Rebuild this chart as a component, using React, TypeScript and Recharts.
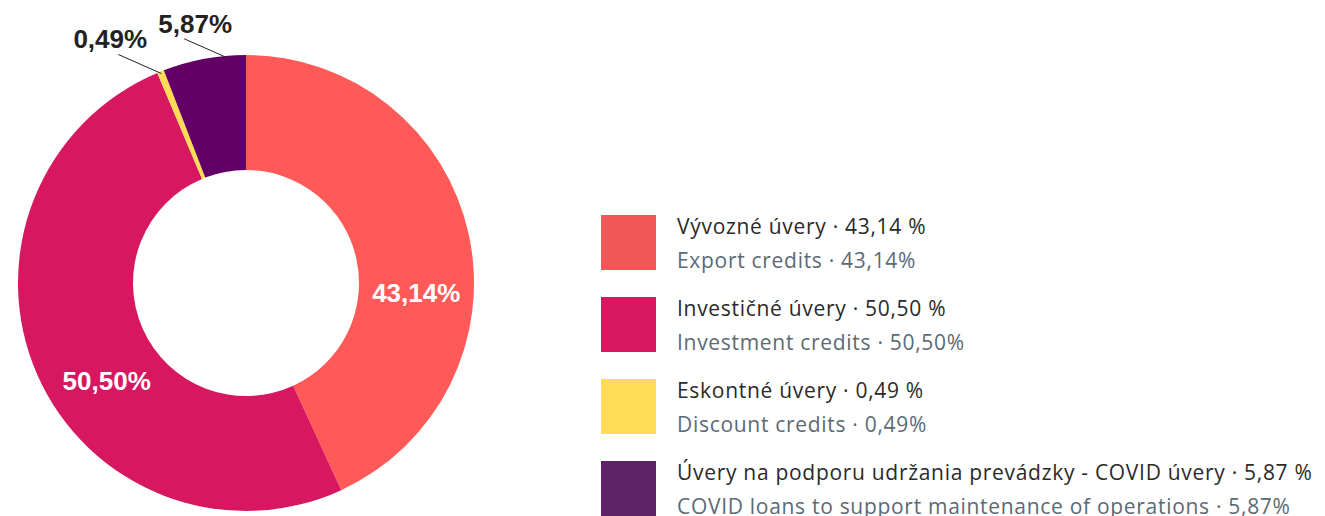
import React from 'react';
import { PieChart, Pie, Cell, Legend } from 'recharts';

const CATEGORIES_SK = [
  'Vývozné úvery',
  'Investičné úvery',
  'Eskontné úvery',
  'Úvery na podporu udržania prevádzky - COVID úvery',
];
const CATEGORIES_EN = [
  'Export credits',
  'Investment credits',
  'Discount credits',
  'COVID loans to support maintenance of operations',
];
const SHARES = [43.14, 50.5, 0.49, 5.87];

const SLICE_COLORS = ['#ff5a57', '#d7175f', '#ffdb56', '#630066'];
const LEGEND_COLORS = ['#f05858', '#d7175f', '#ffdb56', '#5e2167'];

// small nudges so labels sit where the original tool put them
const LABEL_ANGLE_SHIFT = [-15.6, 11.4, 0, -5.8];
const OUTER_LABEL_DX = [0, 0, -8, 11];
const RAD = Math.PI / 180;

const fmt = (v: number) => v.toFixed(2).replace('.', ',');

const data = SHARES.map((value, i) => ({ name: CATEGORIES_EN[i], value }));

const renderLabel = (props: any) => {
  const { cx, cy, midAngle, innerRadius, outerRadius, index, value } = props;
  const angle = (midAngle + LABEL_ANGLE_SHIFT[index]) * RAD;
  const text = `${fmt(value)}%`;
  if (value > 10) {
    const r = (innerRadius + outerRadius) / 2;
    const x = cx + r * Math.cos(-angle);
    const y = cy + r * Math.sin(-angle);
    return (
      <text
        x={x}
        y={y}
        fill="#ffffff"
        textAnchor="middle"
        dominantBaseline="central"
        fontFamily="'Liberation Sans', Arial, sans-serif"
        fontWeight="bold"
        fontSize={26}
      >
        {text}
      </text>
    );
  }
  const x0 = cx + (outerRadius - 2) * Math.cos(-angle);
  const y0 = cy + (outerRadius - 2) * Math.sin(-angle);
  const x1 = x0 - 43;
  const y1 = y0 - 19;
  return (
    <g>
      <path d={`M${x0},${y0}L${x1},${y1}`} stroke="#222" strokeWidth={1} fill="none" />
      <text
        x={x1 + OUTER_LABEL_DX[index]}
        y={y1 - 15}
        fill="#222"
        textAnchor="middle"
        dominantBaseline="central"
        fontFamily="'Liberation Sans', Arial, sans-serif"
        fontWeight="bold"
        fontSize={26}
      >
        {text}
      </text>
    </g>
  );
};

const LegendContent = () => (
  <div style={{ fontFamily: "'Open Sans', sans-serif", fontSize: 21, letterSpacing: 0.7 }}>
    {CATEGORIES_SK.map((sk, i) => (
      <div key={sk} style={{ display: 'flex', height: 82 }}>
        <div style={{ width: 55, height: 55, background: LEGEND_COLORS[i], flexShrink: 0 }} />
        <div style={{ marginLeft: 21, whiteSpace: 'nowrap' }}>
          <div style={{ color: '#2a2a2a', lineHeight: '24px', marginTop: -1 }}>
            {sk} · {fmt(SHARES[i])} %
          </div>
          <div style={{ color: '#5b6a74', lineHeight: '24px', marginTop: 10 }}>
            {CATEGORIES_EN[i]} · {fmt(SHARES[i])}%
          </div>
        </div>
      </div>
    ))}
  </div>
);

export default function App() {
  return (
    <div style={{ position: 'absolute', left: 0, top: 0, width: 1325, height: 516, background: '#fff', overflow: 'hidden' }}>
      <PieChart width={1325} height={516} margin={{ top: 0, right: 0, bottom: 0, left: 0 }}>
        <Pie
          data={data}
          dataKey="value"
          cx={246}
          cy={283}
          innerRadius={113}
          outerRadius={228}
          startAngle={90}
          endAngle={-270}
          stroke="none"
          label={renderLabel}
          labelLine={false}
          isAnimationActive={false}
        >
          {data.map((entry, index) => (
            <Cell key={`cell-${index}`} fill={SLICE_COLORS[index]} />
          ))}
        </Pie>
        <Legend
          content={<LegendContent />}
          wrapperStyle={{ position: 'absolute', left: 601, top: 215, width: 'auto' }}
        />
      </PieChart>
    </div>
  );
}
